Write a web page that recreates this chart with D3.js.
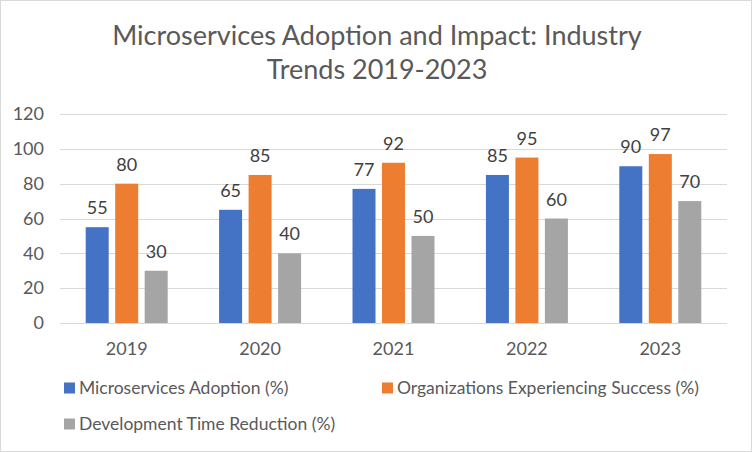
<!DOCTYPE html>
<html>
<head>
<meta charset="utf-8">
<script src="https://cdn.jsdelivr.net/npm/d3@7"></script>
<style>
  body { margin: 0; background: #fff; }
  svg { display: block; font-family: Lato, "Open Sans", sans-serif; }
</style>
</head>
<body>
<svg id="chart" width="752" height="452"></svg>
<script>
const years = ['2019', '2020', '2021', '2022', '2023'];
const seriesNames = ['Microservices Adoption (%)', 'Organizations Experiencing Success (%)', 'Development Time Reduction (%)'];
const adoption = [55, 65, 77, 85, 90];
const success = [80, 85, 92, 95, 97];
const reduction = [30, 40, 50, 60, 70];
const yTicks = [0, 20, 40, 60, 80, 100, 120];
const colors = ['#4472c4', '#ed7d31', '#a5a5a5'];

const width = 752, height = 452;
const margin = { top: 114, right: 25, bottom: 129, left: 60 };
const svg = d3.select('#chart');

// outer border
svg.append('rect')
  .attr('x', 0.5).attr('y', 0.5)
  .attr('width', width - 1).attr('height', height - 1)
  .attr('fill', '#fff').attr('stroke', '#d9d9d9');

// title
const title = svg.append('text')
  .attr('text-anchor', 'middle')
  .attr('fill', '#595959')
  .style('font-size', '27px');
title.append('tspan').attr('x', 377).attr('y', 45).text('Microservices Adoption and Impact: Industry');
title.append('tspan').attr('x', 377).attr('y', 79).text('Trends 2019-2023');

const x = d3.scaleBand()
  .domain(years)
  .range([margin.left, width - margin.right]);

const series = seriesNames.map((name, i) => ({ name, values: [adoption, success, reduction][i], color: colors[i] }));

const xInner = d3.scaleBand()
  .domain(d3.range(series.length))
  .range([x.bandwidth() / 2 - 41, x.bandwidth() / 2 + 41])
  .paddingInner(0.22);

const y = d3.scaleLinear()
  .domain([0, 120])
  .range([height - margin.bottom, margin.top]);

// grid
svg.append('g')
  .selectAll('line')
  .data(yTicks)
  .enter()
  .append('line')
  .attr('x1', margin.left)
  .attr('x2', width - margin.right)
  .attr('y1', d => Math.round(y(d)) + 0.5)
  .attr('y2', d => Math.round(y(d)) + 0.5)
  .attr('stroke', '#d9d9d9')
  .attr('stroke-width', 1);

// y labels
svg.append('g')
  .selectAll('text')
  .data(yTicks)
  .enter()
  .append('text')
  .attr('x', margin.left - 16)
  .attr('y', d => y(d))
  .attr('dy', '0.35em')
  .attr('text-anchor', 'end')
  .attr('fill', '#595959')
  .style('font-size', '18px')
  .text(d => d);

// x labels
svg.append('g')
  .selectAll('text')
  .data(years)
  .enter()
  .append('text')
  .attr('x', d => x(d) + x.bandwidth() / 2)
  .attr('y', 355)
  .attr('text-anchor', 'middle')
  .attr('fill', '#595959')
  .style('font-size', '18px')
  .text(d => d);

// bars
series.forEach((s, si) => {
  const g = svg.append('g');
  g.selectAll('rect')
    .data(years)
    .enter()
    .append('rect')
    .attr('x', d => x(d) + xInner(si))
    .attr('y', (d, i) => y(s.values[i]))
    .attr('width', xInner.bandwidth())
    .attr('height', (d, i) => y(0) - y(s.values[i]))
    .attr('fill', s.color);

  g.selectAll('text')
    .data(years)
    .enter()
    .append('text')
    .attr('x', d => x(d) + xInner(si) + xInner.bandwidth() / 2)
    .attr('y', (d, i) => y(s.values[i]) - 13)
    .attr('text-anchor', 'middle')
    .attr('fill', '#404040')
    .style('font-size', '18px')
    .text((d, i) => s.values[i]);
});

// legend
const legendPos = [[64, 388], [382, 388], [64, 424]];
series.forEach((s, i) => {
  const [lx, ly] = legendPos[i];
  svg.append('rect')
    .attr('x', lx).attr('y', ly - 5.5)
    .attr('width', 11).attr('height', 11)
    .attr('fill', s.color);
  svg.append('text')
    .attr('x', lx + 15).attr('y', ly)
    .attr('dy', '0.35em')
    .attr('fill', '#595959')
    .style('font-size', '17.5px')
    .text(s.name);
});
</script>
</body>
</html>
